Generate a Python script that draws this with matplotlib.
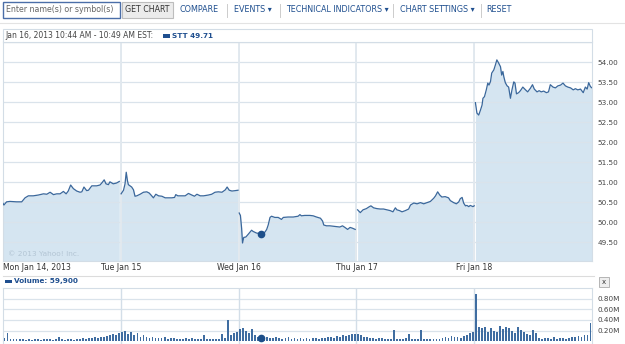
import numpy as np
import matplotlib
matplotlib.use("Agg")
import matplotlib.pyplot as plt
from matplotlib.patches import Rectangle

# ---- price data (minutes after the 9:30 open, price) ----
mon_min = [0, 3, 12, 23, 45, 62, 73, 84, 100, 117, 134, 145, 156, 167, 178, 189, 200, 209, 216, 224,
           233, 244, 255, 261, 268, 277, 283, 294, 310, 321, 327, 335, 341, 349, 354, 365, 376, 385]
mon_px = [50.47, 50.43, 50.51, 50.52, 50.51, 50.51, 50.61, 50.66, 50.66, 50.68, 50.71, 50.70, 50.75, 50.69,
          50.71, 50.71, 50.77, 50.71, 50.78, 50.93, 50.84, 50.78, 50.75, 50.76, 50.88, 50.79, 50.80, 50.91,
          50.91, 50.93, 50.98, 51.06, 50.96, 50.94, 51.01, 50.96, 50.98, 51.02]

tue_min = [1, 9, 14, 18, 22, 25, 36, 42, 47, 53, 64, 75, 86, 94, 100, 108, 116, 125, 136, 147, 158, 169,
           178, 182, 189, 202, 213, 224, 235, 244, 252, 263, 274, 290, 301, 312, 323, 335, 346, 352, 359,
           368, 379, 388]
tue_px = [50.71, 50.80, 50.96, 51.25, 51.04, 50.94, 50.88, 50.81, 50.65, 50.66, 50.70, 50.75, 50.76, 50.73,
          50.68, 50.61, 50.70, 50.66, 50.65, 50.61, 50.61, 50.61, 50.62, 50.69, 50.66, 50.66, 50.66, 50.72,
          50.68, 50.65, 50.70, 50.66, 50.66, 50.68, 50.70, 50.75, 50.76, 50.75, 50.81, 50.88, 50.80, 50.78,
          50.79, 50.80]

wed_min = [2, 6, 10, 13, 17, 24, 32, 43, 48, 59, 73, 87, 93, 98, 104, 109, 120, 131, 142, 148, 164, 181,
           197, 203, 208, 219, 236, 247, 258, 271, 278, 282, 291, 302, 313, 324, 335, 344, 352, 361, 369,
           377, 386]
wed_px = [50.23, 50.17, 49.85, 49.48, 49.62, 49.63, 49.70, 49.80, 49.77, 49.73, 49.71, 49.75, 49.82, 49.93,
          50.12, 50.15, 50.12, 50.12, 50.07, 50.12, 50.13, 50.13, 50.15, 50.19, 50.16, 50.17, 50.17, 50.16,
          50.13, 50.10, 50.03, 49.93, 49.91, 49.91, 49.90, 49.89, 49.88, 49.91, 49.87, 49.82, 49.87, 49.85,
          49.82]

thu_min = [4, 13, 22, 33, 41, 48, 57, 68, 79, 90, 101, 112, 121, 129, 134, 143, 151, 162, 173, 179, 190,
           201, 212, 223, 234, 245, 256, 262, 269, 276, 283, 294, 305, 311, 322, 331, 339, 344, 350, 355,
           361, 366, 372, 377, 386, 390]
thu_px = [50.31, 50.24, 50.31, 50.34, 50.38, 50.41, 50.36, 50.34, 50.33, 50.33, 50.31, 50.29, 50.26, 50.36,
          50.31, 50.29, 50.26, 50.29, 50.33, 50.43, 50.48, 50.46, 50.49, 50.46, 50.49, 50.52, 50.60, 50.66,
          50.76, 50.68, 50.63, 50.64, 50.61, 50.54, 50.49, 50.46, 50.51, 50.59, 50.62, 50.48, 50.41, 50.42,
          50.39, 50.42, 50.39, 50.41]

fri_min = [4, 9, 15, 21, 26, 29, 34, 40, 45, 49, 54, 58, 65, 70, 75, 81, 87, 91, 95, 98, 103, 109, 114,
           120, 125, 131, 135, 140, 147, 153, 161, 170, 177, 186, 193, 199, 208, 215, 222, 230, 239, 246,
           252, 261, 269, 277, 286, 294, 302, 310, 319, 328, 335, 343, 352, 361, 368, 374, 379, 385, 390]
fri_px = [52.99, 52.73, 52.68, 52.81, 52.93, 53.10, 53.14, 53.31, 53.48, 53.43, 53.52, 53.73, 53.81, 53.93,
          54.06, 53.98, 53.89, 53.68, 53.77, 53.64, 53.49, 53.41, 53.38, 53.10, 53.31, 53.51, 53.48, 53.21,
          53.24, 53.29, 53.38, 53.31, 53.26, 53.35, 53.44, 53.33, 53.26, 53.29, 53.26, 53.28, 53.24, 53.26,
          53.44, 53.38, 53.36, 53.41, 53.43, 53.48, 53.41, 53.38, 53.36, 53.31, 53.34, 53.31, 53.33, 53.24,
          53.38, 53.33, 53.49, 53.39, 53.36]

# ---- volume, thousands of shares, one bar per 10 minutes ----
mon_vol = [60, 150, 40, 50, 45, 35, 40, 30, 35, 30, 40, 35, 30, 40, 35, 45, 30, 35, 80, 40, 30, 35, 40, 30,
           45, 40, 60, 50, 70, 55, 80, 60, 90, 75, 100, 110, 130, 120, 150]
tue_vol = [170, 200, 130, 180, 120, 150, 90, 110, 80, 70, 90, 60, 70, 60, 80, 50, 60, 55, 40, 50, 45, 60,
           40, 55, 35, 40, 50, 120, 45, 40, 35, 50, 40, 140, 60, 390, 110, 150, 180]
wed_vol = [230, 240, 200, 150, 230, 120, 90, 60, 60, 80, 70, 60, 90, 60, 50, 70, 80, 50, 60, 45, 70, 50,
           60, 40, 55, 60, 50, 70, 60, 80, 90, 70, 100, 90, 110, 100, 120, 130, 140]
thu_vol = [140, 110, 90, 80, 70, 60, 50, 70, 60, 40, 50, 45, 220, 50, 40, 50, 60, 130, 50, 40, 50, 210,
           40, 45, 40, 35, 50, 45, 60, 80, 60, 100, 80, 90, 70, 100, 120, 150, 170]
fri_vol = [880, 260, 240, 270, 180, 250, 200, 170, 280, 230, 260, 250, 200, 160, 270, 220, 180, 140, 110,
           220, 160, 60, 50, 70, 60, 50, 80, 50, 60, 70, 50, 60, 80, 90, 100, 80, 110, 120, 340]

day_names = ["Mon Jan 14, 2013", "Tue Jan 15", "Wed Jan 16", "Thu Jan 17", "Fri Jan 18"]
price_ticks = [49.5, 50.0, 50.5, 51.0, 51.5, 52.0, 52.5, 53.0, 53.5, 54.0]
vol_ticks = [200, 400, 600, 800]

hover_min, hover_px, hover_vol = 73, 49.71, 59.9

SESSION = 390
W, H = 625, 344
LINE = "#3a679b"
FILL = "#d5e5f1"
GRID = "#dae3eb"
BLUE_TXT = "#1f4f8f"


def fx(x):
    return x / W


def fy(y):
    return 1 - y / H


fig = plt.figure(figsize=(W / 100, H / 100), dpi=100)
fig.patch.set_facecolor("white")

# ---------- toolbar ----------
fig.add_artist(Rectangle((fx(3), fy(18)), 117 / W, 16 / H, transform=fig.transFigure,
                         facecolor="white", edgecolor="#4b6ea8", lw=1))
fig.text(fx(6), fy(10), "Enter name(s) or symbol(s)", fontsize=5.7, color="#666666", va="center")
fig.add_artist(Rectangle((fx(122), fy(18)), 51 / W, 16 / H, transform=fig.transFigure,
                         facecolor="#ececec", edgecolor="#bdbdbd", lw=0.8))
fig.text(fx(147.5), fy(10), "GET CHART", fontsize=5.7, color="#333333", va="center", ha="center")
links = [("COMPARE", 180), ("EVENTS \u25be", 234), ("TECHNICAL INDICATORS \u25be", 286),
         ("CHART SETTINGS \u25be", 400), ("RESET", 486)]
for txt, x in links:
    fig.text(fx(x), fy(10), txt, fontsize=5.8, color=BLUE_TXT, va="center")
for x in [227, 280, 393, 481]:
    fig.add_artist(plt.Line2D([fx(x), fx(x)], [fy(4), fy(17)], transform=fig.transFigure,
                              color="#cccccc", lw=0.7))
fig.add_artist(plt.Line2D([0, 1], [fy(23), fy(23)], transform=fig.transFigure, color="#e3e3e3", lw=0.8))

# ---------- header row of price chart ----------
fig.add_artist(Rectangle((fx(3), fy(42.3)), 589 / W, 13.3 / H, transform=fig.transFigure,
                         facecolor="white", edgecolor="#d3dde6", lw=0.8))
fig.text(fx(5), fy(36), "Jan 16, 2013 10:44 AM - 10:49 AM EST:", fontsize=5.5, color="#444444",
         va="center")
fig.add_artist(Rectangle((fx(163), fy(38)), 7 / W, 3.5 / H, transform=fig.transFigure,
                         facecolor="#1f4f8f", edgecolor="none"))
fig.text(fx(172), fy(36), "STT 49.71", fontsize=5.2, color=BLUE_TXT, va="center", fontweight="bold")

# ---------- price axes ----------
ax = fig.add_axes([fx(3), fy(261), 589 / W, (261 - 42.3) / H])
ax.set_xlim(0, 5 * SESSION)
ax.set_ylim(49.03, 54.5)
days = [(mon_min, mon_px), (tue_min, tue_px), (wed_min, wed_px), (thu_min, thu_px), (fri_min, fri_px)]
for i, (m, p) in enumerate(days):
    x = np.array(m) + i * SESSION
    ax.fill_between(x, p, 49.0, color=FILL, lw=0, zorder=1)
    ax.plot(x, p, color=LINE, lw=0.9, zorder=4)
ax.plot(2 * SESSION + hover_min, hover_px, "o", color="#1d4f8a", ms=4.5, zorder=5)

for t in price_ticks + [54.5]:
    ax.axhline(t, color=GRID, lw=0.9, zorder=2)
for i in range(1, 5):
    ax.axvline(i * SESSION, color="#e2e9ef", lw=1.4, zorder=2.5)
    ax.axvline(i * SESSION, color="#cad7e2", lw=0.5, zorder=0.5)
ax.set_xticks([])
ax.set_yticks(price_ticks)
ax.set_yticklabels([f"{t:.2f}" for t in price_ticks], fontsize=5.2, color="#444444")
ax.yaxis.tick_right()
ax.tick_params(axis="y", length=0, pad=4)
for s in ax.spines.values():
    s.set_color("#d3dde6")
    s.set_linewidth(0.8)
ax.text(5 / 589, 7 / 218.7, "\u00a9 2013 Yahoo! Inc.", transform=ax.transAxes, fontsize=5.3,
        color="#b3c5d4", va="center", zorder=3)

# day labels under the price chart
for i, name in enumerate(day_names):
    ax.text(i * SESSION, -7 / 218.7, name, transform=ax.get_xaxis_transform(), fontsize=5.6,
            color="#333333", ha="left" if i == 0 else "center", va="center")

fig.add_artist(plt.Line2D([fx(3), fx(594)], [fy(276), fy(276)], transform=fig.transFigure,
                          color="#dcdcdc", lw=0.8))

# ---------- volume header ----------
fig.add_artist(Rectangle((fx(5), fy(283)), 7 / W, 3.5 / H, transform=fig.transFigure,
                         facecolor="#1f4f8f", edgecolor="none"))
fig.text(fx(14), fy(281), "Volume: 59,900", fontsize=5.2, color=BLUE_TXT, va="center",
         fontweight="bold")
fig.add_artist(Rectangle((fx(599), fy(287)), 10 / W, 10 / H, transform=fig.transFigure,
                         facecolor="#eeeeee", edgecolor="#aaaaaa", lw=0.6))
fig.text(fx(604), fy(282), "x", fontsize=5, color="#333333", va="center", ha="center")

# ---------- volume axes ----------
vax = fig.add_axes([fx(3), 0, 589 / W, (344 - 288.3) / H])
vax.set_xlim(0, 5 * SESSION)
vax.set_ylim(-50, 991)
for i, v in enumerate([mon_vol, tue_vol, wed_vol, thu_vol, fri_vol]):
    x = np.arange(len(v)) * 10 + 5 + i * SESSION
    vax.bar(x, v, width=6, bottom=0, color="#3f6da1", lw=0, zorder=3)
vax.plot(2 * SESSION + hover_min, hover_vol, "o", color="#1d4f8a", ms=4.5, zorder=5)
for t in vol_ticks:
    vax.axhline(t, color=GRID, lw=0.9, zorder=1)
for i in range(1, 5):
    vax.axvline(i * SESSION, color="#d3dee8", lw=1.0, zorder=1)
vax.set_xticks([])
vax.set_yticks(vol_ticks)
vax.set_yticklabels([f"{t / 1000:.2f}M" for t in vol_ticks], fontsize=5.2, color="#444444")
vax.yaxis.tick_right()
vax.tick_params(axis="y", length=0, pad=4)
for s in vax.spines.values():
    s.set_color("#d3dde6")
    s.set_linewidth(0.8)

fig.savefig("out.png", dpi=100)
